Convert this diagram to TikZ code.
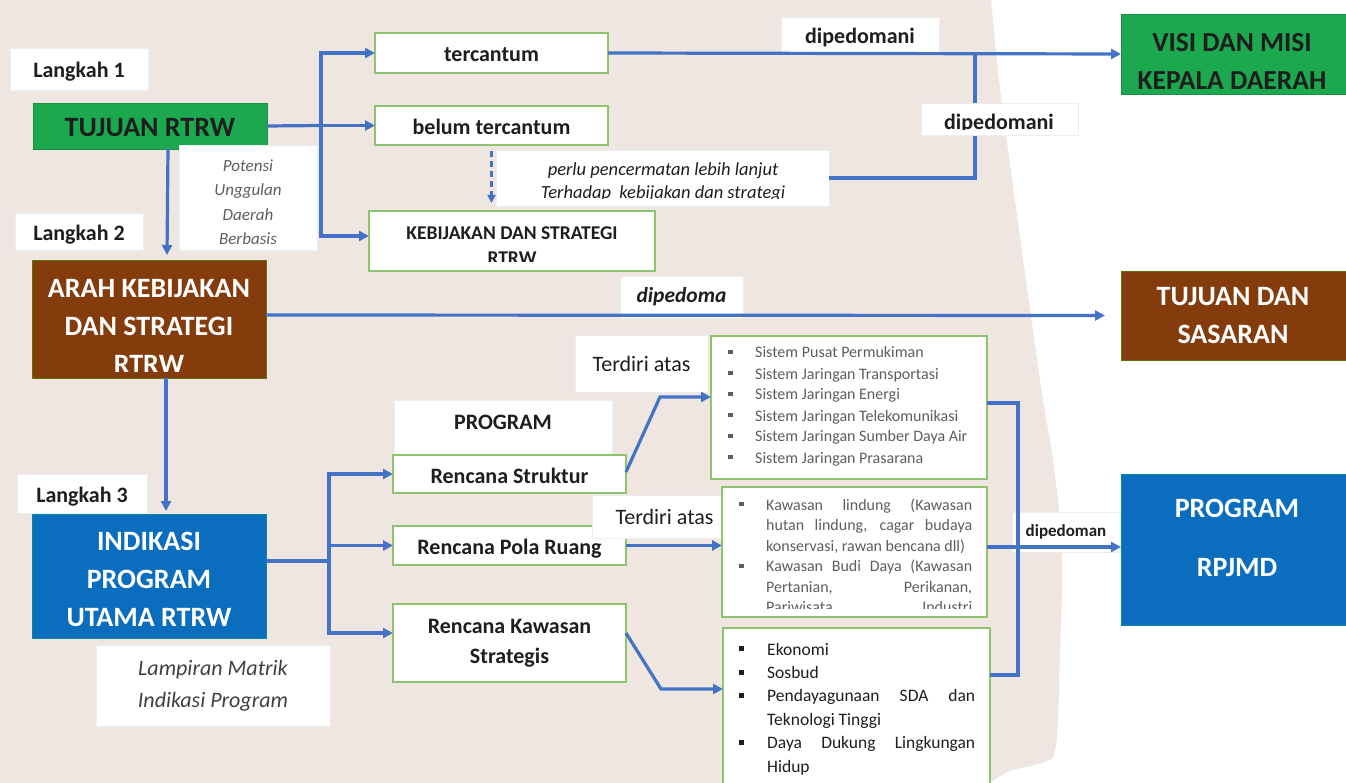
\documentclass[tikz,border=0pt]{standalone}
\usepackage{fontspec}
\setmainfont{Carlito}
\usetikzlibrary{arrows.meta}
\definecolor{bgbeige}{HTML}{EFE6E1}
\definecolor{gfill}{HTML}{1CA84E}
\definecolor{brn}{HTML}{843C0C}
\definecolor{bfill}{HTML}{0B6DBE}
\definecolor{conn}{HTML}{4472C4}
\definecolor{gline}{HTML}{8FC46F}
\definecolor{txtd}{HTML}{1E1E1E}
\definecolor{txtg}{HTML}{5E5E5E}
\newcommand\bsq{\raisebox{0.22em}{\rule{0.28em}{0.28em}}}
\tikzset{
  box/.style={rectangle, anchor=north west, inner sep=0pt, outer sep=0pt, align=center},
  gbox/.style={box, fill=white, draw=gline, line width=1.4pt},
  lbl/.style={box, fill=white, draw=black!7, line width=0.6pt},
  greenbox/.style={box, fill=gfill, draw=gfill!85!black, line width=0.8pt},
  brownbox/.style={box, fill=brn, draw=brn!70!green, line width=0.8pt},
  bluebox/.style={box, fill=bfill, draw=bfill!80!green, line width=0.8pt},
  cline/.style={draw=conn, line width=3.2pt},
  carr/.style={cline, -{Triangle[length=10pt,width=10pt]}},
  txt/.style={inner sep=0pt, outer sep=0pt, align=center},
  bigw/.style={txt, text=white, font=\fontsize{28}{38}\selectfont\bfseries},
  midb/.style={font=\fontsize{22}{25}\selectfont\bfseries, text=txtd, text height=18pt, text depth=0pt},
}
\begin{document}
\begin{tikzpicture}[x=1pt,y=-1pt]
\useasboundingbox (0,0) rectangle (1346,783);
\fill[white] (0,0) rectangle (1346,783);
\fill[bgbeige] (0,0) -- plot[smooth, tension=0.55] coordinates {(991,0) (999,80) (1008,150) (1040,380) (1053,460) (1062,550) (1060,650) (1056,745) (1044,762) (1010,771) (990,783)} -- (0,783) -- cycle;

% ---- step labels
\node[lbl, minimum width=138, minimum height=42, midb] (L1) at (10,48) {Langkah 1};
\node[lbl, minimum width=128, minimum height=37, midb] (L2) at (15,213) {Langkah 2};
\node[lbl, minimum width=130, minimum height=39, midb] (L3) at (17,474) {Langkah 3};

% ---- main left column
\node[greenbox, minimum width=234, minimum height=46, font=\fontsize{28}{30}\selectfont\bfseries, text=txtd, text height=22pt, text depth=0pt] (tuj) at (33,103) {TUJUAN RTRW};
\node[lbl, minimum width=138, minimum height=105] (pot) at (179,145) {};
\begin{scope}
\clip (pot.north west) rectangle ([yshift=6pt]pot.south east);
\node[txt, font=\fontsize{17}{24.5}\selectfont\itshape, text=txtg] (pott) at (248,202) {Potensi\\Unggulan\\Daerah\\Berbasis};
\end{scope}

\node[brownbox, minimum width=234, minimum height=118] (arah) at (32,260) {};
\begin{scope}
\clip ([shift={(2pt,-2pt)}]arah.north west) rectangle ([shift={(-2pt,7pt)}]arah.south east);
\node[bigw] (araht) at (149,326) {ARAH KEBIJAKAN\\DAN STRATEGI\\RTRW};
\end{scope}

\node[bluebox, minimum width=234, minimum height=124] (ind) at (32,514) {};
\node[bigw] (indt) at (149,579.5) {INDIKASI\\PROGRAM\\UTAMA RTRW};

\node[lbl, minimum width=234, minimum height=81, font=\fontsize{22}{32}\selectfont\itshape, text=black!75] (lamp) at (96,645) {Lampiran Matrik\\Indikasi Program};

% ---- top branch
\node[gbox, minimum width=233, minimum height=40, midb] (tc) at (375,33) {tercantum};
\node[gbox, minimum width=233, minimum height=39, midb] (btc) at (375,106) {belum tercantum};
\node[lbl, minimum width=333, minimum height=56] (per) at (496,150) {};
\begin{scope}
\clip (per.north west) rectangle ([yshift=7pt]per.south east);
\node[txt, font=\fontsize{18.5}{23.5}\selectfont\itshape, text=txtd] (pert) at (663,182) {perlu pencermatan lebih lanjut\\Terhadap\ \ kebijakan dan strategi};
\end{scope}
\node[gbox, minimum width=286, minimum height=60] (kb) at (369,211) {};
\begin{scope}
\clip (kb.north west) rectangle ([yshift=9pt]kb.south east);
\node[txt, font=\fontsize{19.5}{25}\selectfont\bfseries, text=txtd] (kbt) at (512,246) {KEBIJAKAN DAN STRATEGI\\RTRW};
\end{scope}

\node[lbl, minimum width=158, minimum height=35, midb] (dp1) at (781,17) {dipedomani};

% ---- right column
\node[greenbox, minimum width=230, minimum height=80] (visi) at (1121,14) {};
\begin{scope}
\clip (visi.north west) rectangle ([yshift=5pt]visi.south east);
\node[txt, font=\fontsize{27.5}{38}\selectfont\bfseries, text=txtd] (visit) at (1232,61) {VISI DAN MISI\\KEPALA DAERAH};
\end{scope}
\node[brownbox, minimum width=230, minimum height=89] (tds) at (1121,271) {};
\node[bigw] (tdst) at (1233,316) {TUJUAN DAN\\SASARAN};
\node[bluebox, minimum width=230, minimum height=151] (rpj) at (1121,474) {};
\node[bigw, font=\fontsize{28}{59}\selectfont\bfseries] (rpjt) at (1237,537.5) {PROGRAM\\RPJMD};

\node[lbl, minimum width=123, minimum height=42, font=\fontsize{21.5}{25}\selectfont\bfseries\itshape, text=txtd] (dpa) at (620,276) {dipedoma};

% ---- program branch
\node[lbl, minimum width=218, minimum height=55, midb, text height=10pt, text depth=7pt] (prg) at (394,400) {PROGRAM};
\node[gbox, minimum width=233, minimum height=38, midb] (rs) at (393,455) {Rencana Struktur};
\node[gbox, minimum width=233, minimum height=39, midb] (rp) at (393,526) {Rencana Pola Ruang};
\node[gbox, minimum width=233, minimum height=78, font=\fontsize{22}{30}\selectfont\bfseries, text=txtd] (rk) at (393,604) {Rencana Kawasan\\Strategis};

\node[lbl, minimum width=133, minimum height=57, font=\fontsize{22}{25}\selectfont, text=txtd] (ta1) at (575,335) {Terdiri atas};
\node[lbl, minimum width=135, minimum height=43, font=\fontsize{22}{25}\selectfont, text=txtd, text depth=0pt] (ta2) at (592,495) {\hspace*{10pt}Terdiri atas};

\node[gbox, minimum width=276, minimum height=143] (ls1) at (711,336) {};
\node[anchor=base west, inner sep=0pt, font=\fontsize{16}{21}\selectfont, text=txtg] (ls1t) at (728,358) {\parbox[t]{255pt}{%
\makebox[27pt][l]{\bsq}Sistem Pusat Permukiman\\
\makebox[27pt][l]{\bsq}Sistem Jaringan Transportasi\\
\makebox[27pt][l]{\bsq}Sistem Jaringan Energi\\
\makebox[27pt][l]{\bsq}Sistem Jaringan Telekomunikasi\\
\makebox[27pt][l]{\bsq}Sistem Jaringan Sumber Daya Air\\
\makebox[27pt][l]{\bsq}Sistem Jaringan Prasarana}};

\node[gbox, minimum width=265, minimum height=130] (ls2) at (722,487) {};
\begin{scope}
\clip (ls2.north west) rectangle ([yshift=9pt]ls2.south east);
\node[anchor=base west, inner sep=0pt, font=\fontsize{16}{20.5}\selectfont, text=txtg] (ls2t) at (739,510) {\parbox[t]{240pt}{%
\makebox[27pt][l]{\bsq}\makebox[206pt][s]{Kawasan lindung (Kawasan}\\
\hspace*{27pt}\makebox[206pt][s]{hutan lindung, cagar budaya}\\
\hspace*{27pt}konservasi, rawan bencana dll)\\
\makebox[27pt][l]{\bsq}\makebox[206pt][s]{Kawasan Budi Daya (Kawasan}\\
\hspace*{27pt}\makebox[206pt][s]{Pertanian, Perikanan,}\\
\hspace*{27pt}\makebox[206pt][s]{Pariwisata, Industri}}};
\end{scope}

\node[gbox, minimum width=267, minimum height=180] (ls3) at (723,628) {};
\node[anchor=base west, inner sep=0pt, font=\fontsize{17.5}{23.4}\selectfont, text=txtd] (ls3t) at (739,655) {\parbox[t]{240pt}{%
\makebox[28pt][l]{\bsq}Ekonomi\\
\makebox[28pt][l]{\bsq}Sosbud\\
\makebox[28pt][l]{\bsq}\makebox[208pt][s]{Pendayagunaan SDA dan}\\
\hspace*{28pt}Teknologi Tinggi\\
\makebox[28pt][l]{\bsq}\makebox[208pt][s]{Daya Dukung Lingkungan}\\
\hspace*{28pt}Hidup}};

\node[lbl, minimum width=108, minimum height=40, font=\fontsize{17}{20}\selectfont\bfseries, text=txtd] (dpm) at (1012,512) {dipedoman};

% ---- connectors
\coordinate (j1) at (321,125.5);
\draw[cline] (tuj.east) -- (j1);
\draw[carr] (j1) |- (tc.west);
\draw[carr] (j1) -- (btc.west);
\draw[carr] (j1) |- ([yshift=5pt]kb.west);
\coordinate (dtip) at (491.5,203);
\draw[draw=conn, line width=2.2pt, dash pattern=on 6pt off 4pt, -{Triangle[length=8pt,width=8pt]}] ([yshift=-6pt]btc.south) -- (dtip);

\draw[carr] (tc.east) -- (visi.west);
\coordinate (m1) at (975,53);
\draw[cline] (per.east) -| (m1);

\draw[carr] ([xshift=18pt]tuj.south) -- ([xshift=18pt, yshift=5pt]arah.north);
\draw[carr] ([yshift=4pt]arah.east) -- ([xshift=-16pt]tds.west);
\draw[carr] ([xshift=17pt]arah.south) -- ([xshift=17pt, yshift=3pt]ind.north);

\coordinate (j2) at (329,561);
\draw[cline] ([yshift=15pt]ind.east) -- (j2);
\draw[carr] (j2) |- (rs.west);
\draw[carr] (j2) |- (rp.west);
\draw[carr] (j2) |- ([yshift=10pt]rk.west);

\coordinate (k1) at (660,397);
\draw[carr] ([yshift=2pt]rs.east) -- (k1) -- (k1 -| ls1.west);
\draw[carr] (rp.east) -- (rp.east -| ls2.west);
\coordinate (k2) at (661,689);
\draw[carr] ([yshift=10pt]rk.east) -- (k2) -- (k2 -| ls3.west);

\coordinate (c1) at (1018,403);
\coordinate (c2) at (1018,675);
\coordinate (c3) at (1018,547);
\draw[cline] (ls1.east |- c1) -- (c1) -- (c2) -- (c2 -| ls3.east);
\draw[cline] (ls2.east |- c3) -- (c3);
\draw[carr] (c3) -- (c3 -| rpj.west);

% label drawn over the vertical line
\node[lbl, minimum width=157, minimum height=32] (dp2) at (921,103) {};
\begin{scope}
\clip (dp2.north west) rectangle ([yshift=5pt]dp2.south east);
\node[txt, font=\fontsize{22}{25}\selectfont\bfseries, text=txtd] (dp2t) at (999,124) {dipedomani};
\end{scope}
\end{tikzpicture}
\end{document}
